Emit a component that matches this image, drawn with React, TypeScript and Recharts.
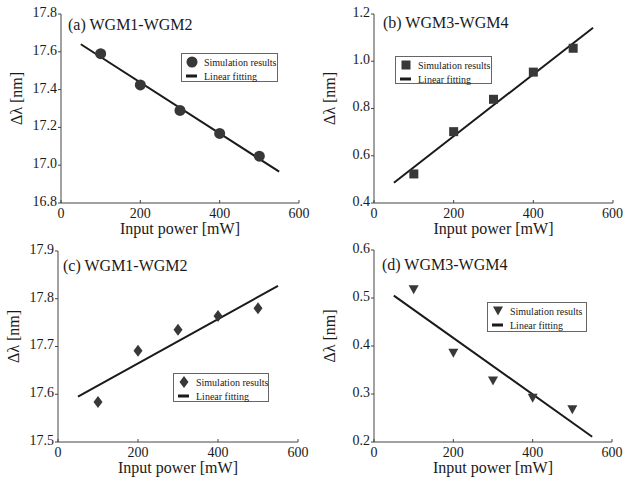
import { ComposedChart, Scatter, Line, XAxis, YAxis } from 'recharts';

const powers = [100, 200, 300, 400, 500];
const fitPowers = [50, 550];
const xTicks = [0, 200, 400, 600];

// (a) WGM1-WGM2
const shiftA = [17.59, 17.425, 17.29, 17.168, 17.048];
const fitA = [17.64, 16.966];
const ticksA = [16.8, 17.0, 17.2, 17.4, 17.6, 17.8];

// (b) WGM3-WGM4
const shiftB = [0.523, 0.702, 0.839, 0.954, 1.055];
const fitB = [0.486, 1.142];
const ticksB = [0.4, 0.6, 0.8, 1.0, 1.2];

// (c) WGM1-WGM2
const shiftC = [17.584, 17.691, 17.735, 17.764, 17.78];
const fitC = [17.595, 17.827];
const ticksC = [17.5, 17.6, 17.7, 17.8, 17.9];

// (d) WGM3-WGM4
const shiftD = [0.517, 0.385, 0.327, 0.291, 0.267];
const fitD = [0.505, 0.211];
const ticksD = [0.2, 0.3, 0.4, 0.5, 0.6];

const FONT = 'Liberation Serif, serif';
const MARK = '#383838';
const INK = '#1a1a1a';
const AXIS = '#444';

const pairs = (xs: number[], ys: number[]) => xs.map((x, i) => ({ x, y: ys[i] }));

type ShapeFn = (p: any) => any;

const circle: ShapeFn = (p) => <circle cx={p.cx} cy={p.cy} r={5.5} fill={MARK} />;
const square: ShapeFn = (p) => <rect x={p.cx - 4.5} y={p.cy - 4.5} width={9} height={9} fill={MARK} />;
const diamond: ShapeFn = (p) => (
  <polygon
    points={`${p.cx},${p.cy - 6} ${p.cx + 4.5},${p.cy} ${p.cx},${p.cy + 6} ${p.cx - 4.5},${p.cy}`}
    fill={MARK}
  />
);
const triDown: ShapeFn = (p) => (
  <polygon
    points={`${p.cx - 5},${p.cy - 4.5} ${p.cx + 5},${p.cy - 4.5} ${p.cx},${p.cy + 4.5}`}
    fill={MARK}
  />
);

interface PanelProps {
  box: { left: number; top: number; width: number; height: number };
  margin: { top: number; right: number; bottom: number; left: number };
  values: number[];
  fit: number[];
  yTicks: number[];
  shape: ShapeFn;
  title: string;
  titlePos: { left: number; top: number };
  legendPos: { left: number; top: number; width: number; height: number };
}

const tickStyle = { fill: INK, fontSize: 14, fontFamily: FONT, style: { fontFamily: FONT } };

function Panel({ box, margin, values, fit, yTicks, shape, title, titlePos, legendPos }: PanelProps) {
  const domain: [number, number] = [yTicks[0], yTicks[yTicks.length - 1]];
  return (
    <div
      style={{
        position: 'absolute',
        left: box.left,
        top: box.top,
        width: box.width,
        height: box.height,
        fontFamily: FONT,
      }}
    >
      <ComposedChart width={box.width} height={box.height} margin={margin} style={{ fontFamily: FONT }}>
        <XAxis
          dataKey="x"
          type="number"
          domain={[0, 600]}
          ticks={xTicks}
          height={30}
          stroke={AXIS}
          tickSize={-3}
          tickMargin={8}
          tick={tickStyle}
          label={{
            content: ({ viewBox }: any) => (
              <text
                x={viewBox.x + viewBox.width / 2}
                y={viewBox.y + 25}
                textAnchor="middle"
                dominantBaseline="central"
                fill={INK}
                fontSize={16}
                style={{ fontFamily: FONT }}
              >
                Input power [mW]
              </text>
            ),
          }}
        />
        <XAxis
          xAxisId="top"
          orientation="top"
          dataKey="x"
          type="number"
          domain={[0, 600]}
          ticks={xTicks}
          height={0}
          stroke={AXIS}
          tickSize={-3}
          tick={{ fill: 'none' }}
        />
        <YAxis
          type="number"
          domain={domain}
          ticks={yTicks}
          width={45}
          stroke={AXIS}
          tickSize={3}
          tickMargin={1}
          tickFormatter={(v: number) => v.toFixed(1)}
          tick={{ ...tickStyle, dy: -2 }}
          label={{
            content: ({ viewBox }: any) => {
              const cx = viewBox.x;
              const cy = viewBox.y + viewBox.height / 2 - 10;
              return (
                <text
                  x={cx}
                  y={cy}
                  transform={`rotate(-90 ${cx} ${cy})`}
                  textAnchor="middle"
                  dominantBaseline="central"
                  fill={INK}
                  fontSize={16}
                  style={{ fontFamily: FONT }}
                >
                  Δλ [nm]
                </text>
              );
            },
          }}
        />
        <YAxis
          yAxisId="right"
          orientation="right"
          type="number"
          domain={domain}
          ticks={yTicks}
          width={0}
          stroke={AXIS}
          tickSize={-3}
          tick={{ fill: 'none' }}
        />
        <Line
          data={pairs(fitPowers, fit)}
          dataKey="y"
          stroke={INK}
          strokeWidth={2}
          dot={false}
          isAnimationActive={false}
        />
        <Scatter data={pairs(powers, values)} dataKey="y" shape={shape} isAnimationActive={false} />
      </ComposedChart>
      <div
        style={{
          position: 'absolute',
          left: titlePos.left,
          top: titlePos.top,
          fontSize: 16,
          lineHeight: '16px',
          color: INK,
          whiteSpace: 'nowrap',
        }}
      >
        {title}
      </div>
      <div
        style={{
          position: 'absolute',
          left: legendPos.left,
          top: legendPos.top,
          width: legendPos.width,
          height: legendPos.height,
          boxSizing: 'border-box',
          border: '1px solid #666',
          background: '#fff',
          fontSize: 10,
          color: INK,
        }}
      >
        <div style={{ position: 'absolute', left: 4, top: 2, height: 12, display: 'flex', alignItems: 'center' }}>
          <svg width={12} height={12} style={{ marginRight: 6 }}>
            {shape({ cx: 6, cy: 6 })}
          </svg>
          <span style={{ whiteSpace: 'nowrap' }}>Simulation results</span>
        </div>
        <div style={{ position: 'absolute', left: 4, top: 16, height: 12, display: 'flex', alignItems: 'center' }}>
          <svg width={12} height={12} style={{ marginRight: 6 }}>
            <rect x={0} y={4.5} width={11} height={3} fill={INK} />
          </svg>
          <span style={{ whiteSpace: 'nowrap' }}>Linear fitting</span>
        </div>
      </div>
    </div>
  );
}

export default function App() {
  return (
    <div style={{ position: 'absolute', left: 0, top: 0, width: 623, height: 479, background: '#fff' }}>
      <Panel
        box={{ left: 0, top: 0, width: 311, height: 240 }}
        margin={{ top: 14, right: 12, bottom: 7, left: 16 }}
        values={shiftA}
        fit={fitA}
        yTicks={ticksA}
        shape={circle}
        title="(a) WGM1-WGM2"
        titlePos={{ left: 68, top: 17 }}
        legendPos={{ left: 181, top: 53, width: 97, height: 29 }}
      />
      <Panel
        box={{ left: 311, top: 0, width: 312, height: 240 }}
        margin={{ top: 14, right: 10, bottom: 7, left: 18 }}
        values={shiftB}
        fit={fitB}
        yTicks={ticksB}
        shape={square}
        title="(b) WGM3-WGM4"
        titlePos={{ left: 72, top: 15 }}
        legendPos={{ left: 84, top: 56, width: 97, height: 28 }}
      />
      <Panel
        box={{ left: 0, top: 237, width: 311, height: 242 }}
        margin={{ top: 14, right: 13, bottom: 7, left: 13 }}
        values={shiftC}
        fit={fitC}
        yTicks={ticksC}
        shape={diamond}
        title="(c) WGM1-WGM2"
        titlePos={{ left: 63, top: 21 }}
        legendPos={{ left: 173, top: 136, width: 96, height: 29 }}
      />
      <Panel
        box={{ left: 311, top: 237, width: 312, height: 242 }}
        margin={{ top: 13, right: 11, bottom: 7, left: 18 }}
        values={shiftD}
        fit={fitD}
        yTicks={ticksD}
        shape={triDown}
        title="(d) WGM3-WGM4"
        titlePos={{ left: 71, top: 20 }}
        legendPos={{ left: 176, top: 65, width: 100, height: 30 }}
      />
    </div>
  );
}
